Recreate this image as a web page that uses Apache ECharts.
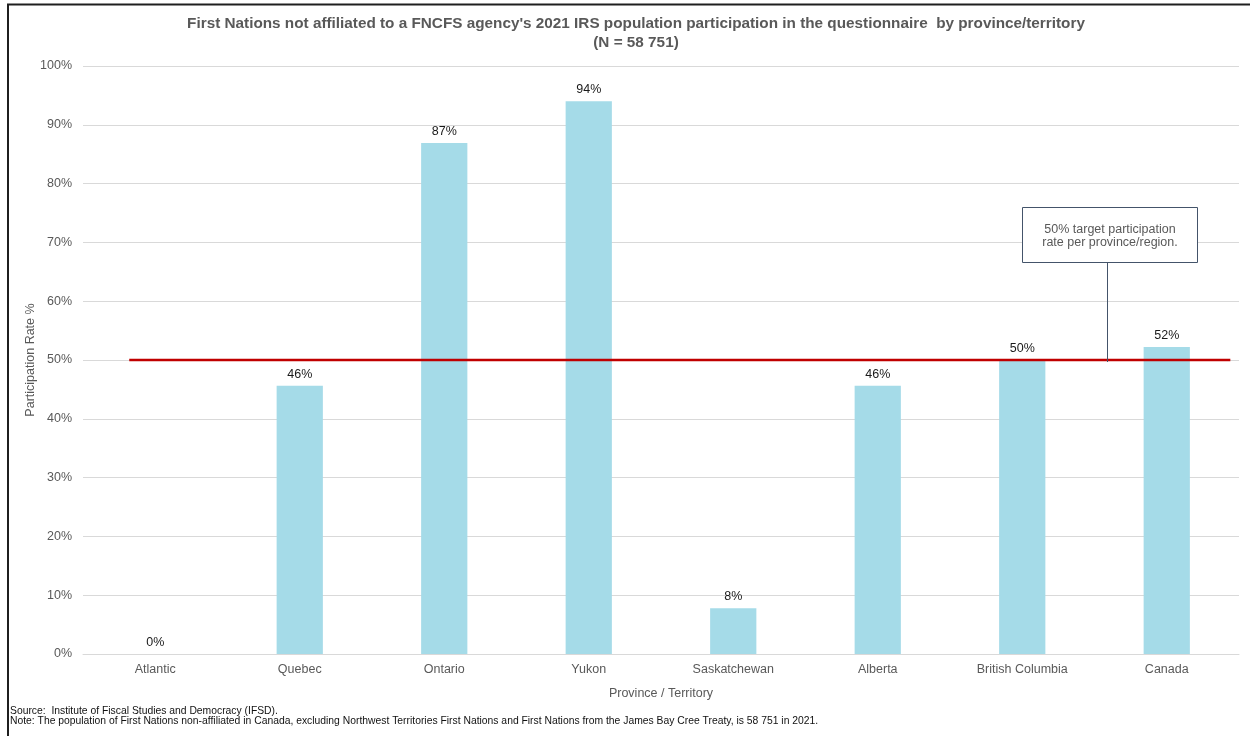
<!DOCTYPE html>
<html>
<head>
<meta charset="utf-8">
<script src="https://cdn.jsdelivr.net/npm/echarts@6/dist/echarts.min.js"></script>
<style>
  html, body { margin: 0; padding: 0; background: #ffffff; }
  #chart { width: 1250px; height: 736px; }
</style>
</head>
<body>
<div id="chart"></div>
<script>
// Participation rate (%) by province / territory
const categories = ['Atlantic', 'Quebec', 'Ontario', 'Yukon', 'Saskatchewan', 'Alberta', 'British Columbia', 'Canada'];
const participation = [0, 45.6, 86.9, 94.0, 7.8, 45.6, 50.0, 52.2];
const valueLabels = ['0%', '46%', '87%', '94%', '8%', '46%', '50%', '52%'];
// Target participation line (value on the percent axis, span in category units)
const targetRate = 50;
const targetSpan = [0.32, 7.94];
const yTicks = [0, 10, 20, 30, 40, 50, 60, 70, 80, 90, 100];

const font = 'Liberation Sans, Arial, sans-serif';
const chart = echarts.init(document.getElementById('chart'));

chart.setOption({
  animation: false,
  backgroundColor: '#ffffff',
  title: {
    text: "First Nations not affiliated to a FNCFS agency's 2021 IRS population participation in the questionnaire  by province/territory\n(N = 58 751)",
    left: 631,
    textAlign: 'center',
    top: 9,
    textStyle: { fontFamily: font, fontSize: 15.3, fontWeight: 'bold', color: '#595959', lineHeight: 19 }
  },
  grid: { left: 83, right: 11, top: 66, bottom: 82 },
  xAxis: [{
    type: 'category',
    data: categories,
    name: 'Province / Territory',
    nameLocation: 'middle',
    nameGap: 33,
    nameMoveOverlap: false,
    nameTextStyle: { fontFamily: font, fontSize: 12.5, color: '#595959' },
    axisLine: { lineStyle: { color: '#d9d9d9', width: 1 } },
    axisTick: { show: false },
    axisLabel: { fontFamily: font, fontSize: 12.5, color: '#595959', margin: 9 }
  }, {
    type: 'value',
    min: 0, max: 8,
    show: false
  }],
  yAxis: {
    type: 'value',
    min: 0, max: 100, interval: 10,
    name: 'Participation Rate %',
    nameLocation: 'middle',
    nameGap: 46,
    nameMoveOverlap: false,
    nameRotate: 90,
    nameTextStyle: { fontFamily: font, fontSize: 12.5, color: '#595959' },
    axisLine: { show: false },
    axisTick: { show: false },
    splitLine: { lineStyle: { color: '#d9d9d9', width: 1 } },
    axisLabel: {
      fontFamily: font, fontSize: 12.5, color: '#595959', margin: 11,
      formatter: v => yTicks.includes(v) ? v + '%' : ''
    }
  },
  series: [{
    type: 'bar',
    data: participation,
    barWidth: '32%',
    itemStyle: { color: '#a5dbe8' },
    label: {
      show: true,
      position: 'top',
      distance: 5,
      fontFamily: font, fontSize: 12.5, color: '#1a1a1a',
      formatter: p => valueLabels[p.dataIndex]
    },
    z: 2
  }, {
    type: 'line',
    xAxisIndex: 1,
    data: [[targetSpan[0], targetRate], [targetSpan[1], targetRate]],
    symbol: 'none',
    lineStyle: { color: '#c00000', width: 2.5 },
    z: 3
  }],
  graphic: [
    // outer frame
    { type: 'polyline', shape: { points: [[8, 740], [8, 4.5], [1260, 4.5]] },
      style: { stroke: '#1f1f1f', lineWidth: 2, fill: null }, silent: true },
    // target callout
    { type: 'line', shape: { x1: 1107.5, y1: 263, x2: 1107.5, y2: 362 },
      style: { stroke: '#44546a', lineWidth: 1 }, z: 10 },
    { type: 'rect', shape: { x: 1022.5, y: 207.5, width: 175, height: 55 },
      style: { fill: '#ffffff', stroke: '#44546a', lineWidth: 1 }, z: 10 },
    { type: 'text', x: 1110, y: 236, z: 11,
      style: { text: '50% target participation\nrate per province/region.', fontFamily: font, fontSize: 12.5,
        fill: '#595959', align: 'center', verticalAlign: 'middle', lineHeight: 13 } },
    // source and note
    { type: 'text', x: 10, y: 706, z: 11,
      style: { text: 'Source:  Institute of Fiscal Studies and Democracy (IFSD).', fontFamily: font, fontSize: 10.35, fill: '#111111' } },
    { type: 'text', x: 10, y: 716, z: 11,
      style: { text: 'Note: The population of First Nations non-affiliated in Canada, excluding Northwest Territories First Nations and First Nations from the James Bay Cree Treaty, is 58 751 in 2021.', fontFamily: font, fontSize: 10.35, fill: '#111111' } }
  ]
});
</script>
</body>
</html>
